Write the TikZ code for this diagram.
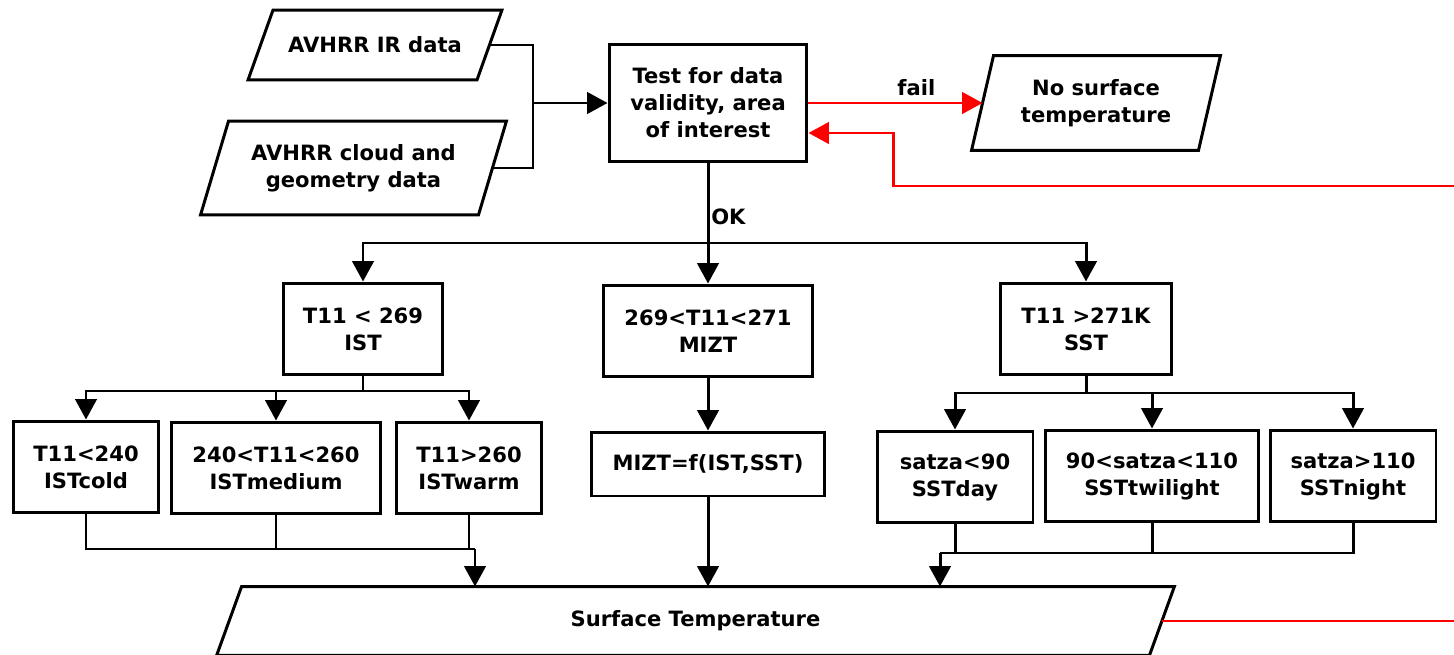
\documentclass[tikz,border=0pt]{standalone}
\usepackage{fontspec}
\setmainfont{DejaVu Sans}
\usetikzlibrary{arrows.meta,positioning}

\tikzset{
  box/.style = {draw, align=center, inner sep=0pt, minimum height=1.84cm},
  data/.style = {align=center, inner sep=0pt}
}

\begin{document}
\begin{tikzpicture}[x=0.02cm, y=-0.02cm, line width=1.7pt,
    >={Triangle[length=0.41cm,width=0.43cm]},
    every node/.style={font=\bfseries\fontsize{12}{15.4}\selectfont}]
   \useasboundingbox (0,0) rectangle (1454,655);
   \node[data, minimum width=4.52cm, minimum height=1.34cm] (in_ir) at (375,45) {AVHRR IR data};
   \node[data, minimum width=5.5cm, minimum height=1.82cm] (in_cloud) at (353.5,168) {AVHRR cloud and\\geometry data};
   \node[box, minimum width=3.96cm, minimum height=2.36cm] (test) at (708,103) {Test for data\\validity, area\\of interest};
   \node[data, minimum width=4.48cm, minimum height=1.84cm] (no_st) at (1096,103) {No surface\\temperature};
   \node[box, minimum width=3.2cm] (ist) at (363,329) {T11 < 269\\IST};
   \node[box, minimum width=4.2cm] (mizt) at (708,331) {269<T11<271\\MIZT};
   \node[box, minimum width=3.42cm] (sst) at (1086,329) {T11 >271K\\SST};
   \node[box, minimum width=2.9cm] (ist_c) at (86,467) {T11<240\\ISTcold};
   \node[box, minimum width=4.2cm] (ist_m) at (276,468) {240<T11<260\\ISTmedium};
   \node[box, minimum width=2.9cm] (ist_w) at (469,468) {T11>260\\ISTwarm};
   \node[box, minimum width=4.68cm, minimum height=1.28cm] (mizt_f) at (708,464) {MIZT=f(IST,SST)};
   \node[box, minimum width=3.12cm] (sst_d) at (955,477) {satza<90\\SSTday};
   \node[box, minimum width=4.28cm] (sst_t) at (1152,476) {90<satza<110\\SSTtwilight};
   \node[box, minimum width=3.32cm] (sst_n) at (1353,476) {satza>110\\SSTnight};
   \node[data, minimum width=18.6cm, minimum height=1.32cm] (surf) at (695.5,621) {Surface Temperature};

   \foreach \n/\s in {in_ir/12.5, in_cloud/14, no_st/11, surf/12.5}
      \draw ([shift={(\s,0)}]\n.north west) -- ([shift={(\s,0)}]\n.north east)
         -- ([shift={(-\s,0)}]\n.south east) -- ([shift={(-\s,0)}]\n.south west) -- cycle;

   \coordinate (in_join) at (533,103);
   \coordinate (ok) at (708,243);
   \coordinate (ist_split) at (363,391);
   \coordinate (ist_join) at (475,549);
   \coordinate (sst_split) at (1086,393);
   \coordinate (sst_join) at (940,553);
   \coordinate (fb_in) at (1454,186);
   \coordinate (fb_turn) at (893,133);
   \coordinate (fb_out) at (1454,621);

   \draw (in_ir.east) -| (in_join) |- (in_cloud.east);
   \draw[->] (in_join) -- (test.west);
   \draw[->, red] (test.east) -- node[above, pos=0.62, black] {fail} (no_st.west);
   \draw[->, red] (fb_in) -| (fb_turn) -- (fb_turn -| test.east);
   \draw[red] (surf.east) -- (fb_out);
   \draw (test.south) -- node[right, pos=0.67, inner sep=1pt] {OK} (ok);
   \draw[->] (ok) -| (ist);
   \draw[->] (ok) -- (mizt);
   \draw[->] (ok) -| (sst);
   \draw (ist) -- (ist_split);
   \draw[->] (ist_split) -| (ist_c);
   \draw[->] (ist_split) -| (ist_m);
   \draw[->] (ist_split) -| (ist_w);
   \draw[->] (mizt) -- (mizt_f);
   \draw (sst) -- (sst_split);
   \draw[->] (sst_split) -| (sst_d);
   \draw[->] (sst_split) -| (sst_t);
   \draw[->] (sst_split) -| (sst_n);
   \draw (ist_c) |- (ist_join);
   \draw (ist_m) |- (ist_join);
   \draw (ist_w) |- (ist_join);
   \draw[->] (ist_join) -- (ist_join |- surf.north);
   \draw[->] (mizt_f) -- (mizt_f |- surf.north);
   \draw (sst_d) |- (sst_join);
   \draw (sst_t) |- (sst_join);
   \draw (sst_n) |- (sst_join);
   \draw[->] (sst_join) -- (sst_join |- surf.north);
\end{tikzpicture}
\end{document}
